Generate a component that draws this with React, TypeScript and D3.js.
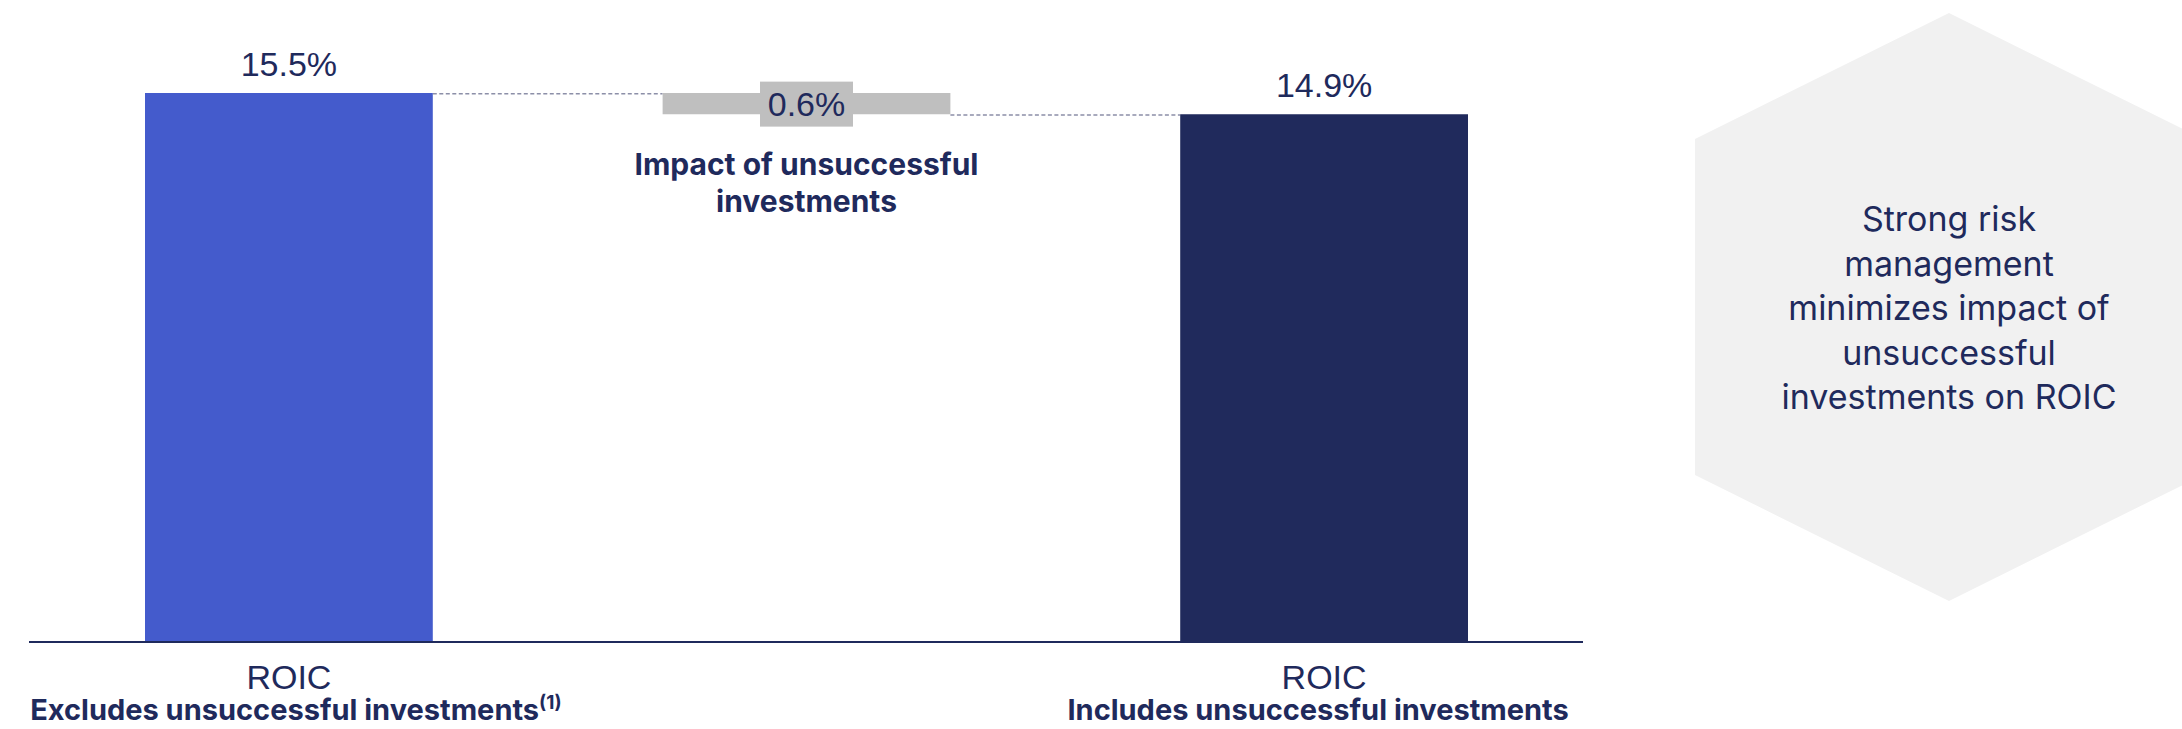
import React, { useRef, useEffect } from 'react'
import { select, scaleBand, scaleLinear, line } from 'd3'

// waterfall steps
const steps = ['excl', 'impact', 'incl']
const values = [15.5, -0.6, 14.9]
const kinds = ['total', 'delta', 'total']
const barColors = ['#445BCC', '#BFBFBF', '#202A5C']

// labels under the axis
const topLabels = ['ROIC', '', 'ROIC']
const subLabels = ['Excludes unsuccessful investments', '', 'Includes unsuccessful investments']
const subNotes = ['(1)', '', '']

const impactLines = ['Impact of unsuccessful', 'investments']
const calloutLines = ['Strong risk', 'management', 'minimizes impact of', 'unsuccessful', 'investments on ROIC']

const W = 2182
const H = 729
const navy = '#1F2A5C'
const numFont = '"Liberation Sans", Arial, sans-serif'
const txtFont = 'Inter, "Noto Sans", sans-serif'

function App() {
    const svgRef = useRef<SVGSVGElement>(null)

    useEffect(() => {
        const svg = select(svgRef.current)
        svg.selectAll('*').remove()

        const x = scaleBand().domain(steps).range([145, 1468]).paddingInner(0.444).paddingOuter(0)
        const y = scaleLinear().domain([0, 15.5]).range([642, 93])

        // running totals for the waterfall
        const bars = steps.map((s, i) => {
            if (kinds[i] === 'total') return { s, i, y0: 0, y1: values[i] }
            const prev = values[i - 1]
            return { s, i, y0: prev + values[i], y1: prev }
        })

        // callout hexagon
        const hx = 1949
        const hex: [number, number][] = [
            [hx, 13], [hx + 254, 139], [hx + 254, 475], [hx, 601], [hx - 254, 475], [hx - 254, 139]
        ]
        svg.append('path')
            .attr('d', line()(hex) + 'Z')
            .attr('fill', '#F1F1F1')

        svg.append('g').selectAll('text').data(calloutLines).join('text')
            .attr('x', hx)
            .attr('y', (d, i) => 231 + i * 44.5)
            .attr('text-anchor', 'middle')
            .attr('font-family', txtFont)
            .attr('font-size', 34)
            .attr('fill', navy)
            .text(d => d)

        // connector lines
        const conn = [
            { x1: x('excl')! + x.bandwidth(), x2: x('impact')!, v: values[0] },
            { x1: x('impact')! + x.bandwidth(), x2: x('incl')!, v: values[2] }
        ]
        svg.append('g').selectAll('line').data(conn).join('line')
            .attr('x1', d => d.x1)
            .attr('x2', d => d.x2)
            .attr('y1', d => y(d.v) + 0.8)
            .attr('y2', d => y(d.v) + 0.8)
            .attr('stroke', '#8C8FA8')
            .attr('stroke-width', 1.6)
            .attr('stroke-dasharray', '4 2.5')

        svg.append('g').selectAll('rect').data(bars).join('rect')
            .attr('x', d => x(d.s)!)
            .attr('width', x.bandwidth())
            .attr('y', d => y(d.y1))
            .attr('height', d => y(d.y0) - y(d.y1))
            .attr('fill', d => barColors[d.i])

        // axis
        svg.append('line')
            .attr('x1', x.range()[0] - 116)
            .attr('x2', x.range()[1] + 115)
            .attr('y1', y(0))
            .attr('y2', y(0))
            .attr('stroke', navy)
            .attr('stroke-width', 2)

        // value labels
        bars.forEach(b => {
            const cx = x(b.s)! + x.bandwidth() / 2
            const label = Math.abs(values[b.i]).toFixed(1) + '%'
            if (kinds[b.i] === 'total') {
                svg.append('text')
                    .attr('x', cx)
                    .attr('y', y(b.y1) - 17)
                    .attr('text-anchor', 'middle')
                    .attr('font-family', numFont)
                    .attr('font-size', 34)
                    .attr('fill', navy)
                    .text(label)
            } else {
                const mid = (y(b.y0) + y(b.y1)) / 2
                svg.append('rect')
                    .attr('x', cx - 46.5)
                    .attr('y', mid - 22)
                    .attr('width', 93)
                    .attr('height', 45)
                    .attr('fill', barColors[b.i])
                svg.append('text')
                    .attr('x', cx)
                    .attr('y', mid + 12.5)
                    .attr('text-anchor', 'middle')
                    .attr('font-family', numFont)
                    .attr('font-size', 34)
                    .attr('fill', navy)
                    .text(label)
                impactLines.forEach((t, k) => {
                    svg.append('text')
                        .attr('x', cx)
                        .attr('y', y(b.y1) + 82 + k * 37)
                        .attr('text-anchor', 'middle')
                        .attr('font-family', txtFont)
                        .attr('font-weight', 700)
                        .attr('font-size', 30)
                        .attr('fill', navy)
                        .text(t)
                })
            }
        })

        // category labels
        steps.forEach((s, i) => {
            if (!topLabels[i]) return
            const cx = x(s)! + x.bandwidth() / 2
            svg.append('text')
                .attr('x', cx)
                .attr('y', 689)
                .attr('text-anchor', 'middle')
                .attr('font-family', numFont)
                .attr('font-size', 34)
                .attr('fill', navy)
                .text(topLabels[i])
            const t = svg.append('text')
                .attr('x', cx + (subNotes[i] ? 7 : -6))
                .attr('y', 720)
                .attr('text-anchor', 'middle')
                .attr('font-family', txtFont)
                .attr('font-weight', 700)
                .attr('font-size', 29)
                .attr('fill', navy)
            t.append('tspan').text(subLabels[i])
            if (subNotes[i]) {
                t.append('tspan')
                    .attr('font-size', 19)
                    .attr('dy', -11)
                    .text(subNotes[i])
            }
        })
    }, [])

    return (
        <svg ref={svgRef} width={W} height={H}
            style={{ position: 'absolute', left: 0, top: 0, background: '#fff' }} />
    )
}

export default App
